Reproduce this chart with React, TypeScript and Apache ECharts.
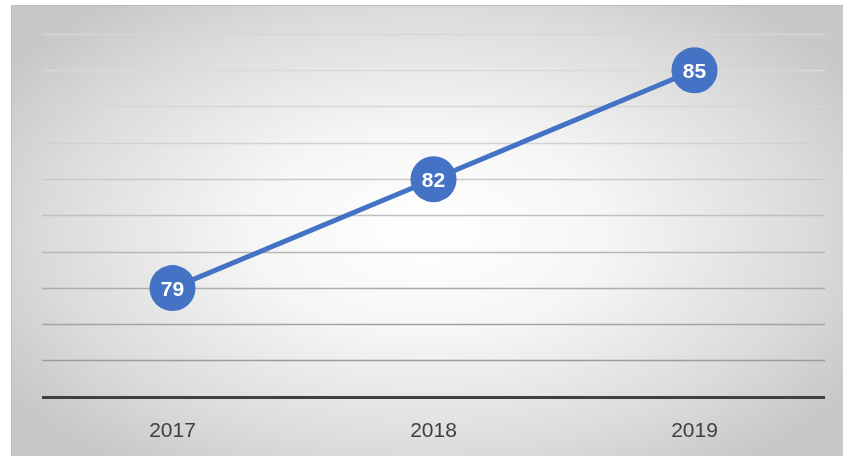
import React, { useEffect, useRef } from "react";
import * as echarts from "echarts";

const categories = ["2017", "2018", "2019"];
const values = [79, 82, 85];
const yMin = 76;
const yMax = 86;
const gridColors = ["#404040", "#9c9c9c", "#a4a4a4", "#adadad", "#b6b6b6", "#c0c0c0", "#c9c9c9", "#d1d1d1", "#d6d6d6", "#d9d9d9", "#d6d6d6"];

export default function App() {
  const ref = useRef<HTMLDivElement>(null);
  useEffect(() => {
    if (!ref.current) return;
    const chart = echarts.init(ref.current, null, { renderer: "svg" });
    chart.setOption({
      animation: false,
      backgroundColor: "transparent",
      grid: { left: 31, right: 18, top: 29, bottom: 59 },
      xAxis: {
        type: "category",
        data: categories,
        boundaryGap: true,
        axisLine: { show: true, lineStyle: { color: "#404040", width: 3, cap: "butt" } },
        axisTick: { show: false },
        axisLabel: { color: "#404040", fontSize: 21, fontFamily: "Liberation Sans", margin: 22 },
        splitLine: { show: false },
      },
      yAxis: {
        type: "value",
        min: yMin,
        max: yMax,
        interval: 1,
        axisLine: { show: false },
        axisTick: { show: false },
        axisLabel: { show: false },
        splitLine: { show: true, lineStyle: { color: gridColors, width: 1.3 } },
      },
      series: [
        {
          type: "line",
          data: values,
          symbol: "circle",
          symbolSize: 46,
          lineStyle: { color: "#4472C4", width: 5 },
          itemStyle: { color: "#4472C4" },
          label: {
            show: true,
            position: "inside",
            color: "#ffffff",
            fontSize: 21,
            fontWeight: "bold",
            fontFamily: "Liberation Sans",
          },
          z: 3,
        },
      ],
    });
    return () => chart.dispose();
  }, []);
  return (
    <div
      style={{
        position: "fixed",
        left: 11,
        top: 5,
        width: 832,
        height: 451,
        boxSizing: "border-box",
        borderTop: "1px solid #bdbdbd",
        borderLeft: "1px solid #bdbdbd",
        background: "radial-gradient(ellipse 60% 65% at 50% 50%, #ffffff 0%, #f6f6f6 35%, #dcdcdc 75%, #c8c8c8 100%)",
      }}
    >
      <div ref={ref} style={{ position: "absolute", left: -1, top: -1, width: 832, height: 451 }} />
    </div>
  );
}
